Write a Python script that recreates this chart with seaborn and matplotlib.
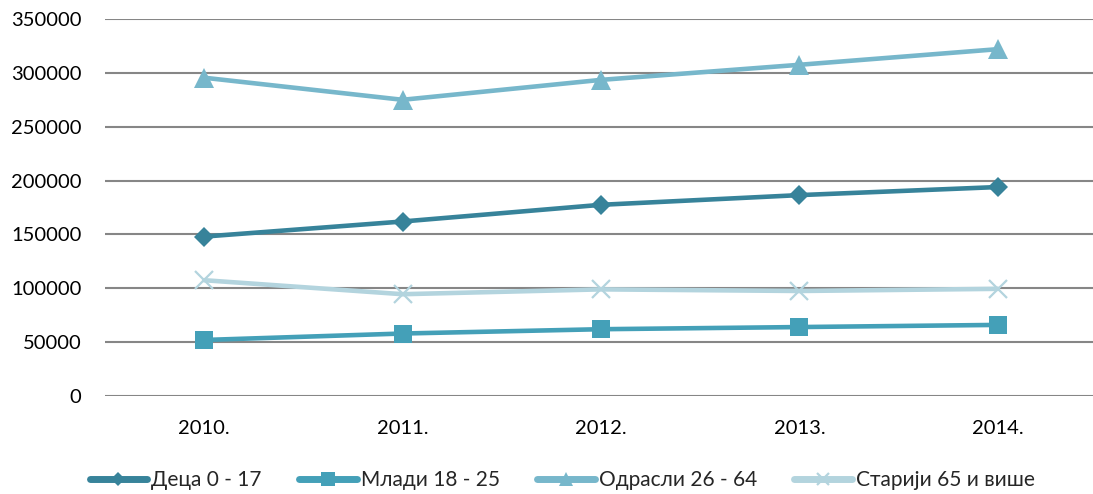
import seaborn as sns
import matplotlib.pyplot as plt

# Values
years = ["2010.", "2011.", "2012.", "2013.", "2014."]
deca = [148000, 162000, 177500, 186500, 194000]
mladi = [52000, 58000, 62000, 64000, 66000]
odrasli = [295500, 275000, 293500, 307500, 322000]
stariji = [107500, 94500, 99000, 97500, 99500]

series = ["Деца 0 - 17", "Млади 18 - 25", "Одрасли 26 - 64", "Старији 65 и више"]
colors = ["#37839a", "#44a0b8", "#77b7cb", "#b3d4de"]
markers = ["D", "s", "^", "x"]
msizes = [10.2, 13.5, 14.5, 13]

sns.set_style("white")
plt.rcParams["font.family"] = ["Lato", "DejaVu Sans"]

fig, ax = plt.subplots(figsize=(10.93, 4.94), dpi=100)

# one call per series: seaborn won't mix filled and line-art markers
for name, vals, c, m, ms in zip(series, [deca, mladi, odrasli, stariji], colors, markers, msizes):
    sns.lineplot(
        x=years, y=vals, color=c, marker=m, linewidth=3.3, label=name,
        markersize=ms, markeredgewidth=1.6 if m == "x" else 0,
        markeredgecolor=c, sort=False, ax=ax,
    )

ax.set_ylim(0, 350000)
ax.set_xlim(-0.5, 4.5)
ax.set_yticks(range(0, 350001, 50000))
ax.yaxis.grid(True, color="#868686", linewidth=1.5)
ax.set_axisbelow(True)
for s in ax.spines.values():
    s.set_visible(False)
ax.tick_params(axis="both", length=0, labelsize=14.5, colors="black")
ax.tick_params(axis="y", pad=17)
ax.tick_params(axis="x", pad=17)
ax.set_xlabel("")
ax.set_ylabel("")

leg = ax.legend(
    loc="center", bbox_to_anchor=(0.461, -0.223),
    ncol=4, frameon=False, fontsize=15, handlelength=2.75,
    handletextpad=0.2, columnspacing=1.8,
)
# legend keys: thicker line, smaller marker
for h, ms in zip(leg.legend_handles, msizes):
    h.set_linewidth(5)
    h.set_markersize(ms * 0.7)

plt.subplots_adjust(left=0.096, right=1.0037, top=0.9615, bottom=0.1984)
plt.savefig("out.png", dpi=100)
